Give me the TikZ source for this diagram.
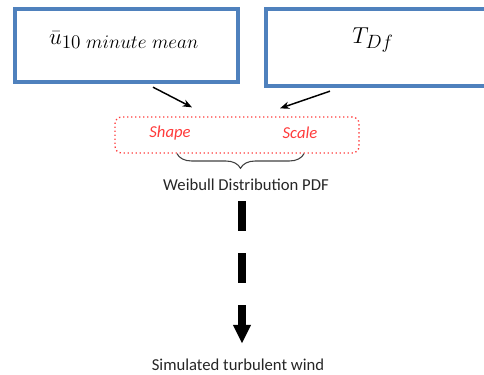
\documentclass[tikz,border=0pt]{standalone}
\usepackage{fontspec}
\setmainfont{Carlito}
\DeclareMathSizes{18.5}{18.5}{14.5}{11}
\usetikzlibrary{arrows.meta,decorations.pathreplacing,calc}
\definecolor{boxblue}{HTML}{4F81BD}
\definecolor{parred}{HTML}{FF3B3B}
\definecolor{bracegray}{HTML}{404040}
\begin{document}
\begin{tikzpicture}[x=0.75pt,y=-0.75pt,
  inbox/.style={draw=boxblue,line width=3pt,rectangle,inner sep=0pt},
  mathlabel/.style={font=\fontsize{18.5}{22}\selectfont,inner sep=0pt},
  parbox/.style={draw=parred,line width=1pt,dotted,rounded corners=5pt,rectangle,inner sep=0pt,
    minimum width=183pt,minimum height=27pt},
  partext/.style={text=parred,font=\fontsize{12.5}{15}\selectfont\itshape,inner sep=0pt},
  plain/.style={text=black!85,font=\fontsize{12.5}{15}\selectfont,inner sep=1pt},
  conn/.style={draw=black,line width=1.1pt,-{Stealth[length=7pt,width=5.5pt]}},
  bracestyle/.style={draw=bracegray,line width=0.8pt,decorate,decoration={brace,mirror,amplitude=11pt}},
  dasharrow/.style={draw=black,line width=6pt,dash pattern=on 22.5pt off 16.5pt,
    -{Triangle[length=14pt,width=12.5pt]}}]
\useasboundingbox (0,0) rectangle (484,374);
\begin{scope}
\clip (0,0) rectangle (484,374);
\node[inbox,minimum width=167pt,minimum height=55pt] (ubox) at (126.5,45.5) {};
\node[mathlabel] (ulabel) at (124,40) {$\bar{u}_{10\ minute\ mean}$};
\node[inbox,minimum width=176pt,minimum height=58pt] (tbox) at (383,47.5) {};
\node[mathlabel] (tlabel) at (373,40) {$T_{Df}$};
\end{scope}
\node[parbox] (params) at (237,135) {};
\node[partext] (shape) at (170,133) {Shape};
\node[partext] (scale) at (300,133) {Scale};
\node[plain] (weibull) at (246,185) {Weibull Distribution PDF};
\node[plain] (sim) at (238,365) {Simulated turbulent wind};
\coordinate (ax) at (242,0);
\draw[conn] ($(ubox.south)+(26.5,3)$) -- ($(params.north)+(-45,-9)$);
\draw[conn] ($(tbox.south)+(-53,3)$) -- ($(params.north)+(43,-8)$);
\draw[bracestyle] ($(params.south)+(-60,0)$) -- ($(params.south)+(67,0)$);
\draw[dasharrow] ($(weibull.south -| ax)+(0,9)$) -- ($(sim.north -| ax)+(0,-14)$);
\end{tikzpicture}
\end{document}
